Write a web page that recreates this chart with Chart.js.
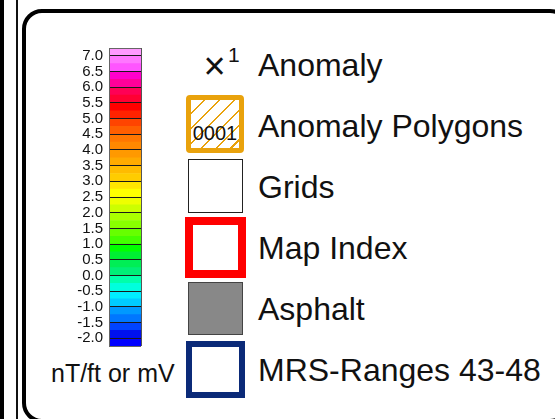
<!DOCTYPE html>
<html>
<head>
<meta charset="utf-8">
<script src="https://cdn.jsdelivr.net/npm/chart.js@4.4.1/dist/chart.umd.min.js"></script>
<style>
  html, body { margin: 0; padding: 0; background: #fff; }
  body { width: 555px; height: 419px; overflow: hidden; position: relative;
         font-family: "Liberation Sans", Arial, sans-serif; color: #111; }
  .abs { position: absolute; }
  .rule-thick { left: 0; top: 0; width: 4px; height: 419px; background: #000; }
  .rule-thin { left: 16px; top: 0; width: 2px; height: 419px; background: #111; }
  .frame { left: 22px; top: 9px; width: 548px; height: 414px; box-sizing: border-box;
           border: 4px solid #000; border-radius: 20px; }
  .lab { left: 258px; font-size: 32px; line-height: 32px; white-space: nowrap; }
  .box { box-sizing: border-box; }
  #wrap { left: 45px; top: 40px; width: 100px; height: 314px; }
</style>
</head>
<body>
<div class="abs rule-thick"></div>
<div class="abs rule-thin"></div>
<div class="abs frame"></div>

<div id="wrap" class="abs"><canvas id="bar" width="100" height="314"></canvas></div>
<div class="abs" style="left:51px;top:361px;font-size:25px;line-height:25px;white-space:nowrap;">nT/ft or mV</div>

<!-- legend symbols -->
<div class="abs" style="left:203.5px;top:47px;font-size:38px;line-height:38px;">×</div>
<div class="abs" style="left:228px;top:43.5px;font-size:21px;line-height:21px;">1</div>
<div class="abs box" style="left:186px;top:95px;width:58px;height:58px;border:5px solid #e9a20c;border-radius:4px;
     background:repeating-linear-gradient(135deg, transparent 0 9px, #e9a20c 9px 10.5px);">
  <div class="abs" style="left:0;top:23px;width:100%;text-align:center;font-size:20px;line-height:20px;">0001</div>
</div>
<div class="abs box" style="left:188px;top:159px;width:55px;height:54px;border:1px solid #222;"></div>
<div class="abs box" style="left:185px;top:217px;width:61px;height:61px;border:8px solid #ff0000;"></div>
<div class="abs box" style="left:188px;top:282px;width:55px;height:53px;background:#888;border:1.5px solid #444;"></div>
<div class="abs box" style="left:186px;top:341px;width:59px;height:57px;border:6px solid #0b2a78;"></div>

<div class="abs lab" style="top:49px;">Anomaly</div>
<div class="abs lab" style="top:110px;">Anomaly Polygons</div>
<div class="abs lab" style="top:171px;">Grids</div>
<div class="abs lab" style="top:232px;">Map Index</div>
<div class="abs lab" style="top:293px;">Asphalt</div>
<div class="abs lab" style="top:354px;">MRS-Ranges 43-48</div>

<script>
  // Colour scale: band edges (bottom to top) and the colour of each band
  const BAND_EDGES = [-2.25, -2.0, -1.75, -1.5, -1.25, -1.0, -0.75, -0.5, -0.25, 0.0,
    0.25, 0.5, 0.75, 1.0, 1.25, 1.5, 1.75, 2.0, 2.25, 2.5, 2.75, 3.0, 3.25, 3.5,
    3.75, 4.0, 4.25, 4.5, 4.75, 5.0, 5.25, 5.5, 5.75, 6.0, 6.25, 6.5, 6.75, 7.0, 7.25];
  const BAND_COLORS = ['#0000ff', '#0011ee', '#0044ff', '#0077ff', '#0099ff', '#00ccff',
    '#00eeff', '#00ffdd', '#00ffaa', '#00ee77', '#00ee55', '#00ee33', '#00ff00', '#44ff00',
    '#66ff00', '#88ff00', '#aaff00', '#ccff00', '#eeff00', '#ffff00', '#ffe600', '#ffcc00',
    '#ffbb00', '#ffaa00', '#ff9900', '#ff8800', '#ff7700', '#ff5f00', '#ff4400', '#ff2200',
    '#ff0000', '#ff0033', '#ff0055', '#ff0099', '#ff00cc', '#ff55ff', '#ff77ff', '#ff99ff'];
  // Labelled levels on the scale
  const LEVELS = [-2.0, -1.5, -1.0, -0.5, 0.0, 0.5, 1.0, 1.5, 2.0, 2.5, 3.0,
    3.5, 4.0, 4.5, 5.0, 5.5, 6.0, 6.5, 7.0];
  const SCALE_MIN = BAND_EDGES[0];
  const SCALE_MAX = BAND_EDGES[BAND_EDGES.length - 1];
  const FONT = '"Liberation Sans", Arial, sans-serif';

  const isLevel = (v) => LEVELS.some((l) => Math.abs(l - v) < 1e-6);

  const datasets = BAND_COLORS.map((c, i) => ({
    data: [[BAND_EDGES[i], BAND_EDGES[i + 1]]],
    backgroundColor: c,
    borderWidth: 0,
    grouped: false,
    barPercentage: 1,
    categoryPercentage: 1,
  }));

  new Chart(document.getElementById('bar').getContext('2d'), {
    type: 'bar',
    data: { labels: ['scale'], datasets },
    options: {
      responsive: false,
      animation: false,
      layout: { padding: { top: 8, bottom: 8, right: 4, left: 0 } },
      plugins: { legend: { display: false }, tooltip: { enabled: false } },
      scales: {
        x: {
          grid: { z: 1, offset: true, color: '#555', drawTicks: false },
          ticks: { display: false },
          border: { display: false },
        },
        y: {
          min: SCALE_MIN,
          max: SCALE_MAX,
          afterBuildTicks: (s) => {
            s.ticks = [SCALE_MIN, ...LEVELS, SCALE_MAX].map((v) => ({ value: v }));
          },
          afterFit: (s) => { s.width = 64; s.paddingTop = 0; s.paddingBottom = 0; },
          grid: {
            z: 1,
            drawTicks: false,
            lineWidth: 1,
            color: (c) => (isLevel(c.tick.value) ? '#1a1a1a' : '#666'),
          },
          border: { z: 1, color: '#666' },
          ticks: {
            autoSkip: false,
            padding: 6,
            color: '#111',
            font: { family: FONT, size: 15, lineHeight: 1 },
            callback: (v) => (isLevel(v) ? Number(v).toFixed(1) : ''),
          },
        },
      },
    },
  });
</script>
</body>
</html>
